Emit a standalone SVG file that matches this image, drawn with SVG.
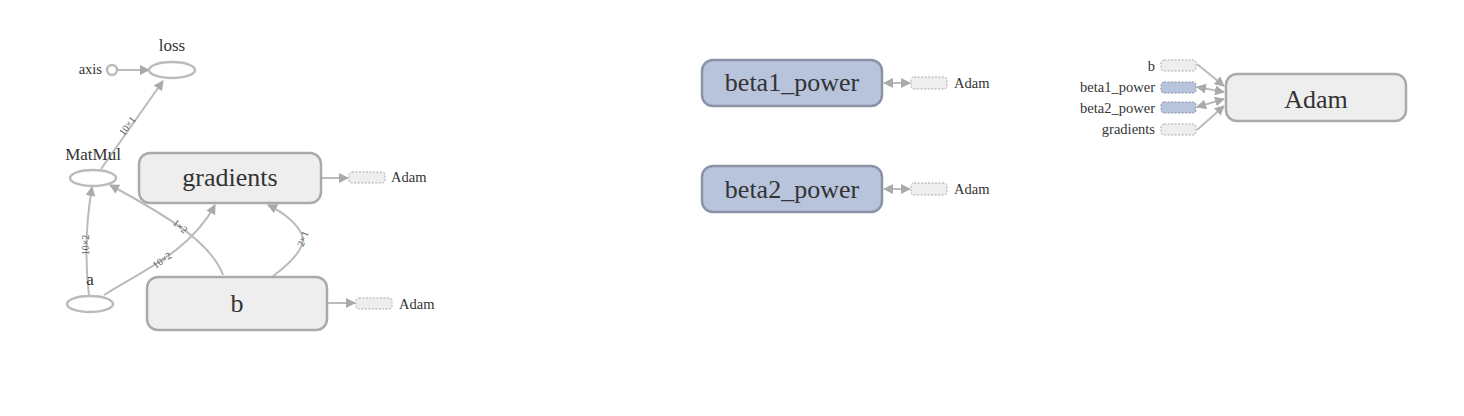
<svg xmlns="http://www.w3.org/2000/svg" width="1464" height="416" viewBox="0 0 1464 416">
<defs>
<marker id="arr" viewBox="0 0 10 10" refX="9" refY="5" markerWidth="10" markerHeight="10" markerUnits="userSpaceOnUse" orient="auto-start-reverse">
<path d="M0,0 L10,5 L0,10 z" fill="#aaaaaa"/>
</marker>
</defs>
<style>
text{font-family:"Liberation Serif","Times New Roman",serif;fill:#333333}
.node{fill:#eeeeee;stroke:#aaaaaa;stroke-width:2.5}
.var{fill:#b8c4dc;stroke:#8a93a6;stroke-width:2.5}
.op{fill:#ffffff;stroke:#bbbbbb;stroke-width:2.5}
.stub{fill:#eeeeee;stroke:#aaaaaa;stroke-width:1;stroke-dasharray:2,1.5}
.stubv{fill:#b8c4dc;stroke:#8a93a6;stroke-width:1;stroke-dasharray:2,1.5}
.edge{fill:none;stroke:#bbbbbb;stroke-width:2;marker-end:url(#arr)}
.bi{marker-start:url(#arr)}
.big{font-size:26px;text-anchor:middle}
.mid{font-size:17px;text-anchor:middle}
.sm{font-size:14.5px}
.end{text-anchor:end}
.el{font-size:10px;text-anchor:middle;fill:#555555}
</style>
<g id="connectors">
<path class="edge" d="M117,70 L149,70"/>
<path class="edge" d="M101,169 L163,81"/>
<path class="edge" d="M89,296 C85,262 86,222 92,187"/>
<path class="edge" d="M104,295 C140,272 190,252 215,205"/>
<path class="edge" d="M223,275 C212,245 175,220 110,185"/>
<path class="edge" d="M273,276 C295,260 306,245 302,235 C298,225 285,213 268,205"/>
<path class="edge" d="M321,178 L348,178"/>
<path class="edge" d="M327,303 L355,303"/>
<path class="edge bi" d="M884,83 L910,83"/>
<path class="edge bi" d="M884,189 L910,189"/>
<path class="edge" d="M1197,64 L1224,86"/>
<path class="edge bi" d="M1197,87 L1224,92"/>
<path class="edge bi" d="M1197,107 L1224,99"/>
<path class="edge" d="M1197,130 L1224,106"/>
<text class="el" transform="translate(130,128) rotate(-53)">10×1</text>
<text class="el" transform="translate(89,245) rotate(-90)">10×2</text>
<text class="el" transform="translate(164,263) rotate(-35)">10×2</text>
<text class="el" transform="translate(178,229) rotate(40)">1×2</text>
<text class="el" transform="translate(306,240) rotate(-70)">2×1</text>
</g>
<g id="axis">
<circle class="op" cx="112" cy="70" r="5"/>
<text class="sm end" x="102" y="74">axis</text>
</g>
<g id="loss">
<ellipse class="op" cx="172" cy="70" rx="23" ry="8"/>
<text class="mid" x="172" y="51">loss</text>
</g>
<g id="MatMul">
<ellipse class="op" cx="93" cy="178" rx="23" ry="8"/>
<text class="mid" x="93" y="160">MatMul</text>
</g>
<g id="a">
<ellipse class="op" cx="90" cy="304" rx="23" ry="8"/>
<text class="mid" x="90" y="285">a</text>
</g>
<g id="gradients">
<rect class="node" x="139" y="153" width="182" height="50" rx="11"/>
<text class="big" x="230" y="186">gradients</text>
</g>
<g id="gradients_Adam">
<rect class="stub" x="349" y="172" width="36" height="11" rx="3"/>
<text class="sm" x="391" y="182">Adam</text>
</g>
<g id="b">
<rect class="node" x="147" y="277" width="180" height="53" rx="11"/>
<text class="big" x="237" y="312">b</text>
</g>
<g id="b_Adam">
<rect class="stub" x="356" y="298" width="36" height="11" rx="3"/>
<text class="sm" x="399" y="309">Adam</text>
</g>
<g id="beta1_power">
<rect class="var" x="702" y="60" width="180" height="46" rx="11"/>
<text class="big" x="792" y="91">beta1_power</text>
</g>
<g id="beta1_Adam">
<rect class="stub" x="911" y="77" width="36" height="12" rx="3"/>
<text class="sm" x="954" y="88">Adam</text>
</g>
<g id="beta2_power">
<rect class="var" x="702" y="166" width="180" height="46" rx="11"/>
<text class="big" x="792" y="198">beta2_power</text>
</g>
<g id="beta2_Adam">
<rect class="stub" x="911" y="183" width="36" height="12" rx="3"/>
<text class="sm" x="954" y="194">Adam</text>
</g>
<g id="Adam">
<rect class="node" x="1226" y="74" width="180" height="47" rx="11"/>
<text class="big" x="1316" y="108">Adam</text>
</g>
<g id="Adam_b">
<rect class="stub" x="1161" y="60" width="35" height="11" rx="3"/>
<text class="sm end" x="1155" y="71">b</text>
</g>
<g id="Adam_beta1_power">
<rect class="stubv" x="1161" y="82" width="35" height="11" rx="3"/>
<text class="sm end" x="1155" y="92">beta1_power</text>
</g>
<g id="Adam_beta2_power">
<rect class="stubv" x="1161" y="102" width="35" height="11" rx="3"/>
<text class="sm end" x="1155" y="113">beta2_power</text>
</g>
<g id="Adam_gradients">
<rect class="stub" x="1161" y="124" width="35" height="11" rx="3"/>
<text class="sm end" x="1155" y="134">gradients</text>
</g>
</svg>
